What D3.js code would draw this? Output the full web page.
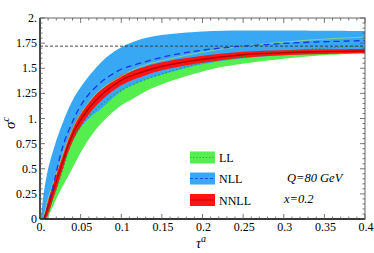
<!DOCTYPE html>
<html>
<head>
<meta charset="utf-8">
<script src="https://cdn.jsdelivr.net/npm/d3@7"></script>
<style>
  body { margin: 0; background: #fff; }
  svg { display: block; }
</style>
</head>
<body>
<svg width="374" height="253" font-family="'Liberation Serif', 'DejaVu Serif', serif"></svg>
<script>
// ---- data: [tau, sigma] ----
var llLo = [[0.009,0],[0.023,0.25],[0.037,0.46],[0.05,0.66],[0.065,0.85],[0.08,0.99],[0.098,1.12],[0.115,1.2],[0.135,1.29],[0.16,1.37],[0.197,1.46],[0.222,1.51],[0.283,1.58],[0.34,1.625],[0.4,1.65]];
var llHi = [[0.004,0],[0.01,0.2],[0.015,0.33],[0.022,0.5],[0.03,0.69],[0.035,0.8],[0.045,0.98],[0.06,1.16],[0.075,1.29],[0.1,1.42],[0.125,1.52],[0.15,1.575],[0.2,1.66],[0.25,1.72],[0.3,1.76],[0.35,1.79],[0.4,1.81]];
var llMid = [[0.008,0],[0.015,0.18],[0.024,0.39],[0.032,0.6],[0.0385,0.76],[0.05,0.92],[0.06,1.02],[0.077,1.15],[0.098,1.27],[0.115,1.34],[0.156,1.46],[0.197,1.55],[0.222,1.58],[0.262,1.63],[0.295,1.665],[0.35,1.7],[0.4,1.725]];

var nllLo = [[0.006,0],[0.015,0.2],[0.024,0.4],[0.032,0.6],[0.04,0.77],[0.05,0.91],[0.06,1.0],[0.077,1.11],[0.1,1.27],[0.125,1.37],[0.156,1.45],[0.2,1.54],[0.25,1.6],[0.3,1.63],[0.35,1.645],[0.4,1.65]];
var nllHi = [[0.001,0],[0.005,0.28],[0.01,0.5],[0.018,0.73],[0.03,1.0],[0.04,1.18],[0.05,1.31],[0.06,1.42],[0.073,1.54],[0.085,1.63],[0.1,1.71],[0.125,1.79],[0.15,1.83],[0.2,1.865],[0.25,1.875],[0.3,1.875],[0.4,1.87]];
var nllMid = [[0.004,0],[0.006,0.03],[0.012,0.19],[0.018,0.39],[0.024,0.6],[0.03,0.77],[0.038,0.93],[0.048,1.1],[0.06,1.24],[0.075,1.36],[0.087,1.43],[0.1,1.49],[0.115,1.53],[0.156,1.62],[0.2,1.68],[0.25,1.72],[0.32,1.755],[0.4,1.775]];

var nnllLo = [[0.007,0],[0.01,0.05],[0.015,0.17],[0.022,0.34],[0.03,0.55],[0.035,0.67],[0.045,0.85],[0.06,1.04],[0.075,1.175],[0.1,1.33],[0.125,1.415],[0.15,1.48],[0.2,1.555],[0.25,1.605],[0.3,1.63],[0.35,1.642],[0.4,1.652]];
var nnllHi = [[0.004,0],[0.01,0.2],[0.015,0.33],[0.022,0.5],[0.03,0.69],[0.035,0.81],[0.045,0.99],[0.06,1.16],[0.075,1.285],[0.1,1.43],[0.125,1.505],[0.15,1.56],[0.2,1.625],[0.25,1.665],[0.3,1.68],[0.35,1.688],[0.4,1.692]];
var nnllMid = [[0.005,0],[0.01,0.12],[0.015,0.25],[0.022,0.42],[0.03,0.62],[0.035,0.74],[0.045,0.92],[0.06,1.1],[0.075,1.23],[0.1,1.38],[0.125,1.46],[0.15,1.52],[0.2,1.59],[0.25,1.635],[0.3,1.655],[0.35,1.665],[0.4,1.672]];

var refLevel = 1.72;
var xTicks = [0,0.05,0.1,0.15,0.2,0.25,0.3,0.35,0.4];
var xTickLabels = ["0.","0.05","0.1","0.15","0.2","0.25","0.3","0.35","0.4"];
var yTicks = [0,0.25,0.5,0.75,1,1.25,1.5,1.75,2];
var yTickLabels = ["0","0.25","0.5","0.75","1.","1.25","1.5","1.75","2."];
var legendNames = ["LL","NLL","NNLL"];

var svg = d3.select("svg"),
    pl = 40, pr = 365, pt = 18, pb = 219;

var x = d3.scaleLinear().domain([0, 0.4]).range([pl, pr]),
    y = d3.scaleLinear().domain([0, 2]).range([pb, pt]);

var line = d3.line()
    .x(function(d) { return x(d[0]); })
    .y(function(d) { return y(d[1]); })
    .curve(d3.curveCatmullRom.alpha(0.5));

function band(lo, hi) {
  var back = line(lo.slice().reverse());
  return line(hi) + "L" + back.substring(1) + "Z";
}

svg.append("clipPath").attr("id", "clip")
  .append("rect").attr("x", pl).attr("y", pt)
  .attr("width", pr - pl).attr("height", pb - pt);

var plot = svg.append("g").attr("clip-path", "url(#clip)");

plot.append("path").attr("d", band(llLo, llHi)).attr("fill", "#55ee4f");
plot.append("path").attr("d", band(nllLo, nllHi)).attr("fill", "#38a8f5");
plot.append("path").attr("d", band(nnllLo, nnllHi)).attr("fill", "#ff1414");

// upper edge of LL band shows through
plot.append("path").attr("d", line(llHi))
  .attr("fill", "none").attr("stroke", "#8fe07a").attr("stroke-width", 0.8);

plot.append("path").attr("d", line(llMid))
  .attr("fill", "none").attr("stroke", "#239a23").attr("stroke-width", 1.2)
  .attr("stroke-dasharray", "1.2,2.6");
plot.append("path").attr("d", line(nllMid))
  .attr("fill", "none").attr("stroke", "#1634e6").attr("stroke-width", 1.3)
  .attr("stroke-dasharray", "6,4");
plot.append("path").attr("d", line(nnllMid))
  .attr("fill", "none").attr("stroke", "#b80000").attr("stroke-width", 1.4);

plot.append("line")
  .attr("x1", pl).attr("x2", pr)
  .attr("y1", y(refLevel)).attr("y2", y(refLevel))
  .attr("stroke", "#333").attr("stroke-width", 0.9)
  .attr("stroke-dasharray", "3,2");

// frame
svg.append("rect").attr("x", pl).attr("y", pt)
  .attr("width", pr - pl).attr("height", pb - pt)
  .attr("fill", "none").attr("stroke", "#666").attr("stroke-width", 1);
svg.append("line").attr("x1", pl).attr("x2", pl).attr("y1", pt).attr("y2", pb)
  .attr("stroke", "#111").attr("stroke-width", 1.3);
svg.append("line").attr("x1", pl).attr("x2", pr).attr("y1", pb).attr("y2", pb)
  .attr("stroke", "#111").attr("stroke-width", 1.3);

// ticks, drawn inward on all sides
var ticks = svg.append("g").attr("stroke", "#555").attr("stroke-width", 0.8);
d3.range(0, 41).forEach(function(i) {
  var t = i / 100, len = (i % 5 == 0) ? 5 : 2.5;
  ticks.append("line").attr("x1", x(t)).attr("x2", x(t)).attr("y1", pb).attr("y2", pb - len);
  ticks.append("line").attr("x1", x(t)).attr("x2", x(t)).attr("y1", pt).attr("y2", pt + len);
});
d3.range(0, 41).forEach(function(i) {
  var v = i * 0.05, len = (i % 5 == 0) ? 5 : 2.5;
  ticks.append("line").attr("x1", pl).attr("x2", pl + len).attr("y1", y(v)).attr("y2", y(v));
  ticks.append("line").attr("x1", pr).attr("x2", pr - len).attr("y1", y(v)).attr("y2", y(v));
});

svg.selectAll(".xlab").data(xTicks).enter().append("text")
  .attr("class", "xlab")
  .attr("x", function(d) { return x(d) + 1; })
  .attr("y", pb + 12)
  .attr("text-anchor", "middle")
  .style("font-size", "12px")
  .text(function(d, i) { return xTickLabels[i]; });

svg.selectAll(".ylab").data(yTicks).enter().append("text")
  .attr("class", "ylab")
  .attr("x", pl - 3)
  .attr("y", function(d) { return y(d) + 4; })
  .attr("text-anchor", "end")
  .style("font-size", "12px")
  .text(function(d, i) { return yTickLabels[i]; });

// axis titles
var xt = svg.append("text").attr("x", 196).attr("y", 248).style("font-size", "14px").style("font-style", "italic");
xt.append("tspan").text("\u03c4");
xt.append("tspan").attr("dy", -6).style("font-size", "10px").text("a");

var yt = svg.append("text").attr("transform", "translate(15,129) rotate(-90)").style("font-size", "15px").style("font-style", "italic");
yt.append("tspan").text("\u03c3");
yt.append("tspan").attr("dy", -6).style("font-size", "10px").text("c");

// legend
var lg = svg.append("g");
var fills = ["#55ee4f", "#38a8f5", "#ff1414"];
var lineCol = ["#239a23", "#1634e6", "#b80000"];
var dash = ["1.2,2", "3,2", null];
var rowY = [151.5, 172.5, 194];
legendNames.forEach(function(name, i) {
  lg.append("rect").attr("x", 190).attr("y", rowY[i]).attr("width", 25).attr("height", 12)
    .attr("fill", fills[i]);
  lg.append("line").attr("x1", 190).attr("x2", 215).attr("y1", rowY[i] + 6).attr("y2", rowY[i] + 6)
    .attr("stroke", lineCol[i]).attr("stroke-width", 0.8)
    .attr("stroke-dasharray", dash[i]);
  lg.append("text").attr("x", 219).attr("y", rowY[i] + 10.5)
    .style("font-size", "12px").text(name);
});

svg.append("text").attr("x", 287).attr("y", 182).style("font-size", "12.5px").style("font-style", "italic").text("Q=80 GeV");
svg.append("text").attr("x", 284).attr("y", 203).style("font-size", "12.5px").style("font-style", "italic").text("x=0.2");
</script>
</body>
</html>
